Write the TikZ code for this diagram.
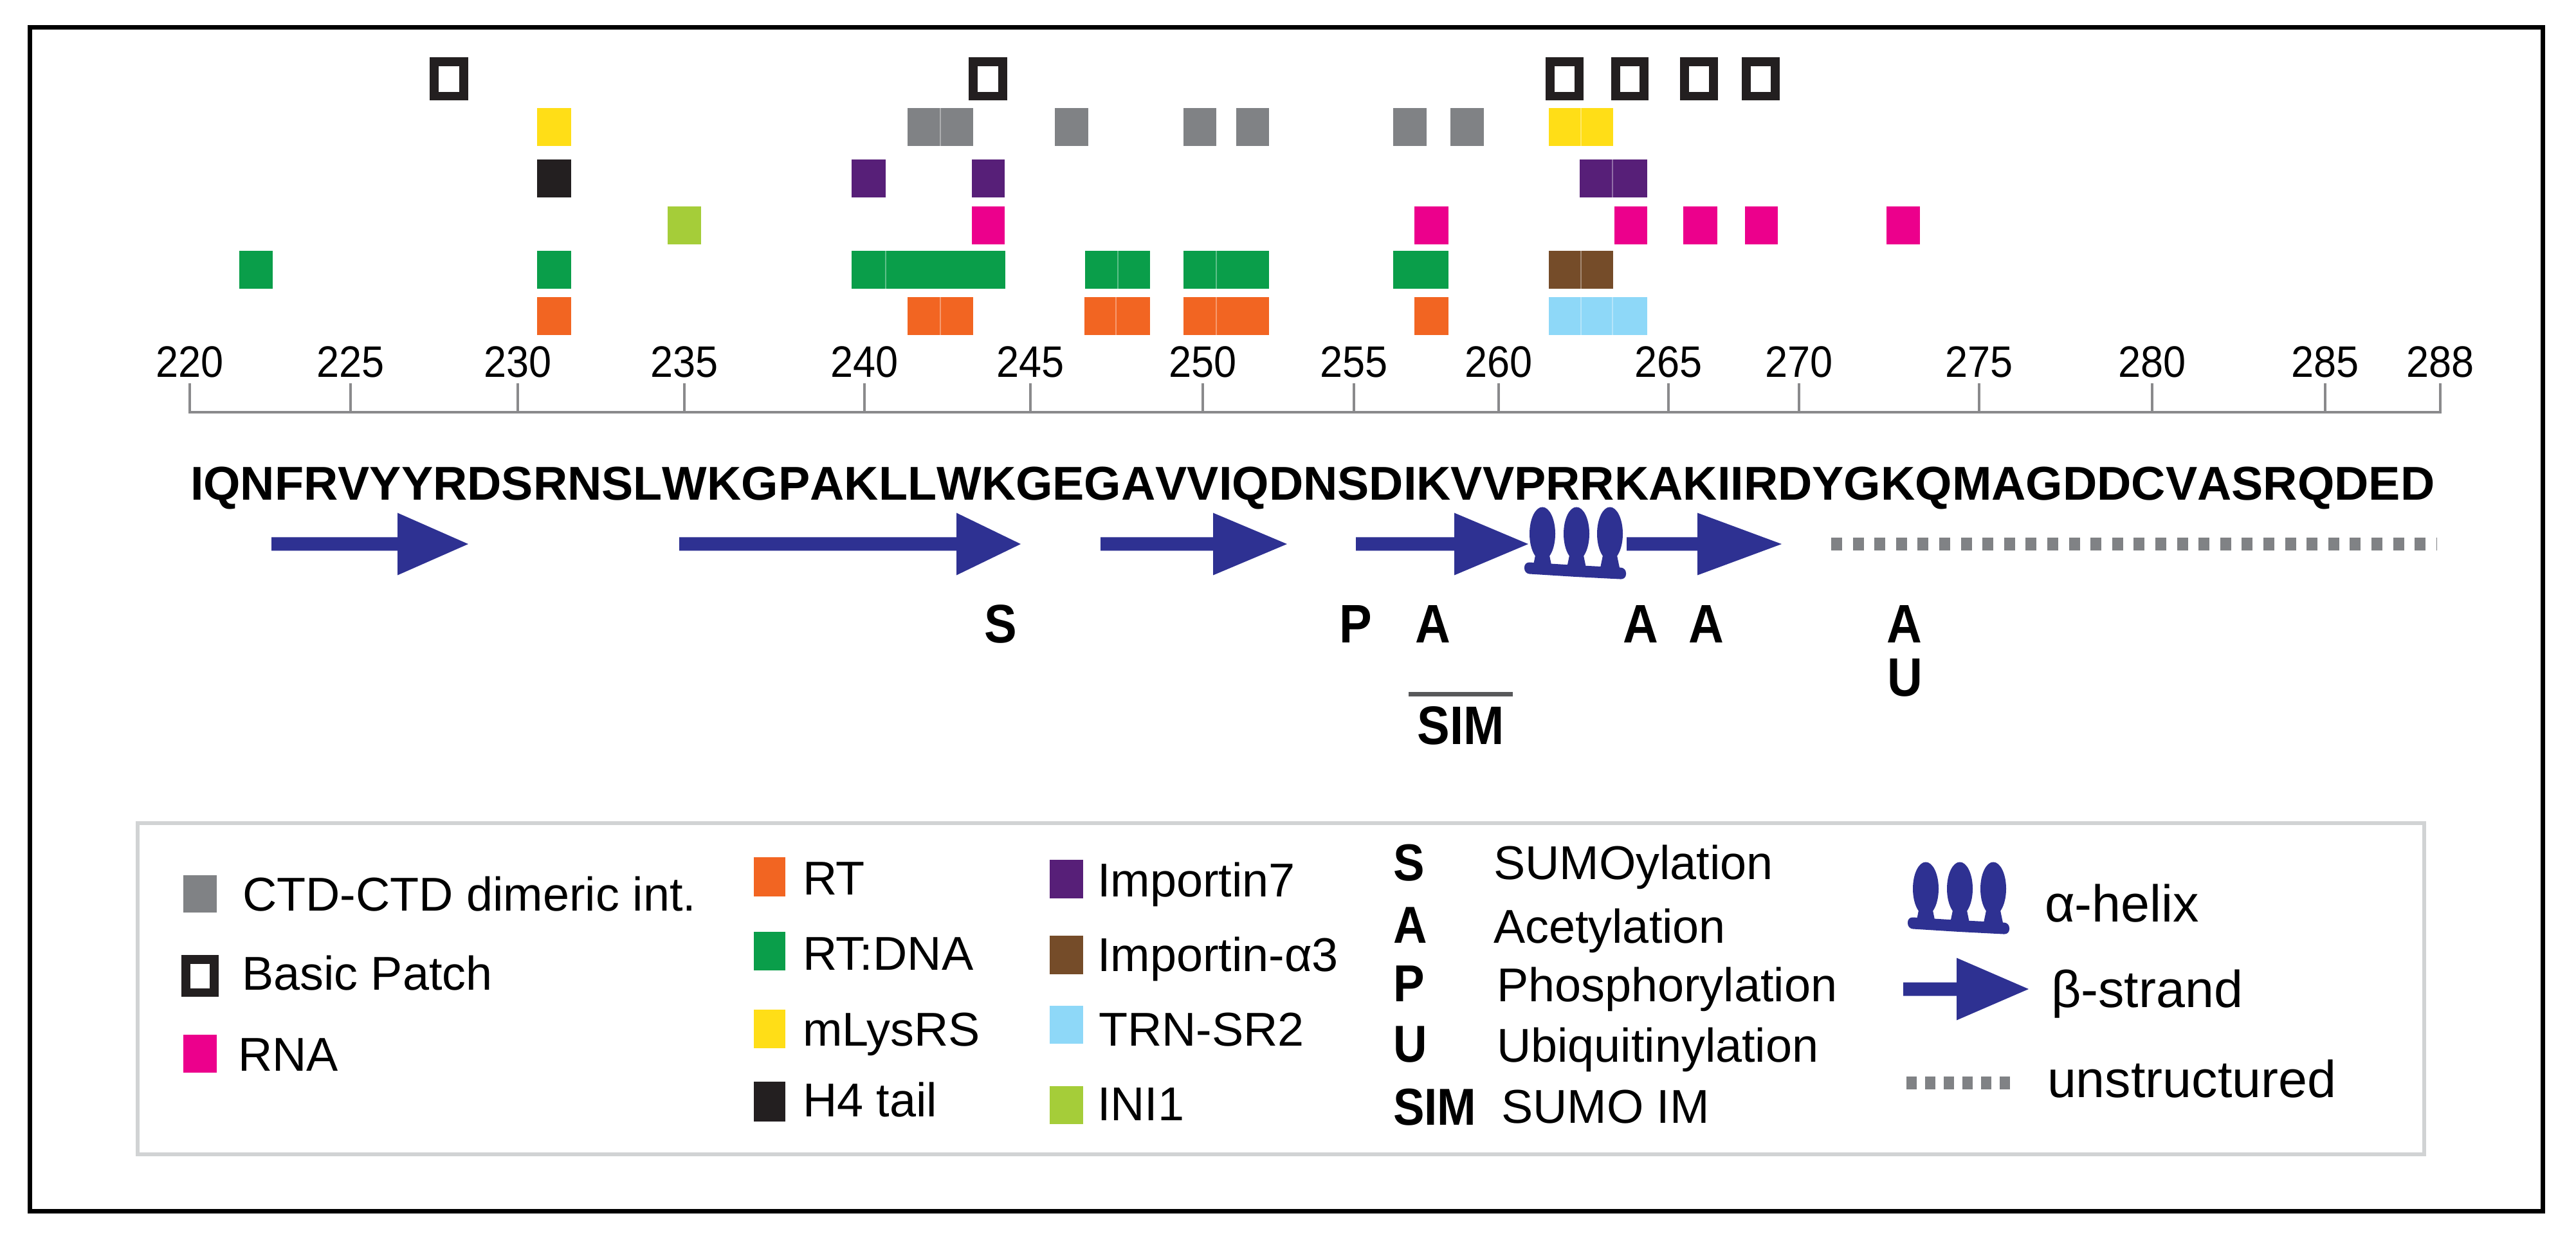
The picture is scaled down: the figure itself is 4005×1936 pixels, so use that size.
\documentclass[tikz,border=0pt]{standalone}
\usepackage{fontspec}
\setmainfont{Liberation Sans}
\newfontfamily\seqfont{Liberation Sans}[Kerning=Off]
\newfontfamily\condfont{Liberation Sans}[FakeStretch=0.92]
\newfontfamily\ptmfont{Liberation Sans}[FakeStretch=0.9]
\definecolor{cgray}{HTML}{808285}
\definecolor{cyel}{HTML}{FFDE17}
\definecolor{cblk}{HTML}{231F20}
\definecolor{cpur}{HTML}{571F78}
\definecolor{cpink}{HTML}{EC008C}
\definecolor{clime}{HTML}{A5CD39}
\definecolor{cgreen}{HTML}{0A9E4A}
\definecolor{corange}{HTML}{F26522}
\definecolor{cbrown}{HTML}{754C29}
\definecolor{clblue}{HTML}{8ED8F8}
\definecolor{hblue}{HTML}{2E3192}
\definecolor{lgray}{HTML}{D1D3D4}
\definecolor{axisc}{HTML}{8A8A8C}
\definecolor{simc}{HTML}{58595B}
\newcommand\rowbox[4]{\fill[#1] (#2,{#3}) rectangle (#4,{#3+59});}
\newcommand\rowdiv[2]{\draw[divline] (#1,{#2}) -- (#1,{#2+59});}
\newcommand\bpatch[4]{\fill[cblk] (#1,#3) rectangle (#2,#4);\fill[white] ({#1+14},{#3+14}) rectangle ({#2-14},{#4-13});}
\newcommand\bstrand[4]{\fill[hblue] (#1,{#4-10.5}) -- (#2,{#4-10.5}) -- (#2,{#4-48.5}) -- (#3,#4) -- (#2,{#4+48.5}) -- (#2,{#4+10.5}) -- (#1,{#4+10.5}) -- cycle;}
\tikzset{
  divline/.style={draw=white, opacity=0.35, line width=0.25mm},
  txt/.style={inner sep=0pt, outer sep=0pt, anchor=base west, font=\fontsize{21}{25}\selectfont},
  bigtxt/.style={inner sep=0pt, outer sep=0pt, anchor=base west, font=\fontsize{23}{27}\selectfont},
  numtxt/.style={inner sep=0pt, outer sep=0pt, anchor=base, font=\condfont\fontsize{19.5}{22}\selectfont},
  seqtxt/.style={inner sep=0pt, outer sep=0pt, anchor=base west, font=\seqfont\bfseries\fontsize{21}{25}\selectfont},
  ptm/.style={inner sep=0pt, outer sep=0pt, anchor=base, font=\ptmfont\bfseries\fontsize{24}{28}\selectfont},
  ptmleg/.style={inner sep=0pt, outer sep=0pt, anchor=base west, font=\ptmfont\bfseries\fontsize{23}{27}\selectfont},
  unstr/.style={draw=cgray, line width=2mm, dash pattern=on 1.7mm off 1.66mm},
  unstrleg/.style={draw=cgray, line width=2mm, dash pattern=on 1.6mm off 1.3mm},
  helix/.pic={
    \foreach \c in {28,81,133} {
      \fill[hblue] (\c,42) ellipse [x radius=2mm, y radius=4.15mm];
      \fill[hblue] ({\c-9},66) -- ({\c+9},66) -- ({\c+15},95) -- ({\c-15},95) -- cycle;
    }
    \fill[hblue, rounded corners=0.8mm] (0,86) -- (80,91) -- (158,95) -- (158,113) -- (80,109) -- (0,104) -- cycle;
  }
}
\begin{document}
\begin{tikzpicture}[x=0.1mm,y=-0.1mm]
\useasboundingbox (0,0) rectangle (4005,1936);
\draw[black, line width=0.7mm] (46.5,43) rectangle (3953.5,1883);

% row 1: basic patch
\foreach \a/\b in {668/728,1506/1566,2403/2462,2505/2563,2612/2671,2708/2767} {\bpatch{\a}{\b}{89}{156}}

% row 2
\rowbox{cyel}{835}{168}{888}
\rowbox{cgray}{1411}{168}{1513}\rowdiv{1462}{168}
\rowbox{cgray}{1640}{168}{1692}
\rowbox{cgray}{1840}{168}{1891}
\rowbox{cgray}{1922}{168}{1973}
\rowbox{cgray}{2166}{168}{2218}
\rowbox{cgray}{2255}{168}{2307}
\rowbox{cyel}{2408}{168}{2508}\rowdiv{2458}{168}

% row 3
\rowbox{cblk}{835}{248}{888}
\rowbox{cpur}{1324}{248}{1377}
\rowbox{cpur}{1511}{248}{1562}
\rowbox{cpur}{2456}{248}{2561}\rowdiv{2507}{248}

% row 4
\rowbox{clime}{1038}{321}{1090}
\rowbox{cpink}{1511}{321}{1562}
\rowbox{cpink}{2199}{321}{2252}
\rowbox{cpink}{2510}{321}{2561}
\rowbox{cpink}{2617}{321}{2670}
\rowbox{cpink}{2713}{321}{2764}
\rowbox{cpink}{2933}{321}{2985}

% row 5
\rowbox{cgreen}{372}{390}{424}
\rowbox{cgreen}{835}{390}{888}
\rowbox{cgreen}{1324}{390}{1563}\rowdiv{1377}{390}
\rowbox{cgreen}{1687}{390}{1788}\rowdiv{1738}{390}
\rowbox{cgreen}{1840}{390}{1973}\rowdiv{1891}{390}
\rowbox{cgreen}{2166}{390}{2252}
\rowbox{cbrown}{2408}{390}{2508}\rowdiv{2458}{390}

% row 6
\rowbox{corange}{835}{462}{888}
\rowbox{corange}{1411}{462}{1513}\rowdiv{1462}{462}
\rowbox{corange}{1686}{462}{1788}\rowdiv{1735}{462}
\rowbox{corange}{1840}{462}{1973}\rowdiv{1891}{462}
\rowbox{corange}{2199}{462}{2252}
\rowbox{clblue}{2408}{462}{2561}\rowdiv{2458}{462}\rowdiv{2507}{462}

% axis
\draw[axisc, line width=0.45mm] (295,596) -- (295,641) -- (3794,641) -- (3794,596);
\foreach \x in {545,805,1064,1344,1602,1870,2105,2330,2594,2797,3077,3346,3615} {\draw[axisc, line width=0.35mm] (\x,596) -- (\x,641);}
\foreach \x/\n in {295/220,545/225,805/230,1064/235,1344/240,1602/245,1870/250,2105/255,2330/260,2594/265,2797/270,3077/275,3346/280,3615/285,3794/288} {\node[numtxt] (n\n) at (\x,587) {\n};}

% sequence
\node[seqtxt] (seq) at (296,778) {IQNFRVYYRDSRNSLWKGPAKLLWKGEGAVVIQDNSDIKVVPRRKAKIIRDYGKQMAGDDCVASRQDED};

% secondary structure
\bstrand{422}{618}{728}{846}
\bstrand{1056}{1487}{1587}{846}
\bstrand{1711}{1886}{2001}{846}
\bstrand{2108}{2261}{2376}{846}
\bstrand{2529}{2639}{2770}{846}
\pic at (2370,788) {helix};
\draw[unstr] (2847,846) -- (3788,846);

% PTMs
\node[ptm] (m244) at (1556,1000) {S};
\node[ptm] (m255) at (2108,1000) {P};
\node[ptm] (m258) at (2228,1000) {A};
\node[ptm] (m264) at (2551,1000) {A};
\node[ptm] (m266) at (2653,1000) {A};
\node[ptm] (m273) at (2961,1000) {A};
\node[ptm] (u273) at (2962,1082) {U};
\draw[simc, line width=0.7mm] (2190,1079) -- (2352,1079);
\node[ptm] (sim) at (2271,1157) {SIM};

% legend
\draw[lgray, line width=0.6mm] (214,1280) rectangle (3769,1795);
\fill[cgray] (285,1361) rectangle (337,1419);
\bpatch{282}{340}{1485}{1550}
\fill[cpink] (285,1609) rectangle (337,1668);
\node[txt] (l1) at (377,1416) {CTD-CTD dimeric int.};
\node[txt] (l2) at (376,1539) {Basic Patch};
\node[txt] (l3) at (370,1665) {RNA};

\fill[corange] (1172,1333) rectangle (1221,1394);
\fill[cgreen] (1172,1449) rectangle (1221,1509);
\fill[cyel] (1172,1570) rectangle (1221,1630);
\fill[cblk] (1172,1682) rectangle (1221,1744);
\node[txt] (l4) at (1248,1391) {RT};
\node[txt] (l5) at (1248,1508) {RT:DNA};
\node[txt] (l6) at (1248,1626) {mLysRS};
\node[txt] (l7) at (1248,1736) {H4 tail};

\fill[cpur] (1632,1337) rectangle (1684,1397);
\fill[cbrown] (1632,1455) rectangle (1684,1515);
\fill[clblue] (1632,1564) rectangle (1684,1623);
\fill[clime] (1632,1689) rectangle (1684,1748);
\node[txt] (l8) at (1706,1394) {Importin7};
\node[txt] (l9) at (1706,1510) {Importin-α3};
\node[txt] (l10) at (1708,1626) {TRN-SR2};
\node[txt] (l11) at (1706,1742) {INI1};

\node[ptmleg] (k1) at (2166,1369) {S};
\node[ptmleg] (k2) at (2166,1466) {A};
\node[ptmleg] (k3) at (2166,1557) {P};
\node[ptmleg] (k4) at (2166,1651) {U};
\node[ptmleg] (k5) at (2166,1749) {SIM};
\node[txt] (d1) at (2322,1367) {SUMOylation};
\node[txt] (d2) at (2322,1466) {Acetylation};
\node[txt] (d3) at (2327,1557) {Phosphorylation};
\node[txt] (d4) at (2327,1651) {Ubiquitinylation};
\node[txt] (d5) at (2334,1746) {SUMO IM};

\pic at (2966,1340) {helix};
\bstrand{2959}{3042}{3154}{1538}
\draw[unstrleg] (2964,1683.5) -- (3137,1683.5);
\node[bigtxt] (e1) at (3179,1433) {α-helix};
\node[bigtxt] (e2) at (3189,1566) {β-strand};
\node[bigtxt] (e3) at (3183,1706) {unstructured};
\end{tikzpicture}
\end{document}
